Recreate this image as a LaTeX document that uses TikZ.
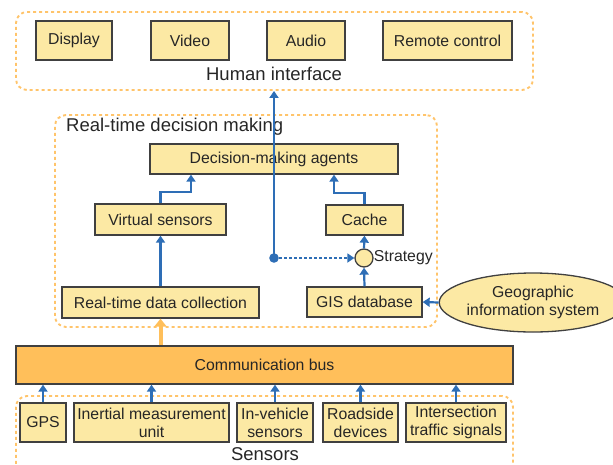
\documentclass[tikz,border=0pt]{standalone}
\usepackage{fontspec}
\setmainfont{Liberation Sans}
\usetikzlibrary{arrows.meta,shapes.geometric}
\definecolor{boxfill}{RGB}{252,233,164}
\definecolor{boxline}{RGB}{64,64,64}
\definecolor{flowblue}{RGB}{46,110,182}
\definecolor{frameorange}{RGB}{255,196,107}
\definecolor{busorange}{RGB}{255,191,90}
\newcommand{\boxfont}{\fontsize{15.8}{18}\selectfont}
\newcommand{\titlefont}{\fontsize{18.5}{21}\selectfont}
\tikzset{
  unit/.style={draw=boxline, fill=boxfill, line width=1.3pt, inner sep=0pt, align=center,
    font=\boxfont, text=black!85, minimum width=#1},
  frame/.style={draw=frameorange, line width=1.9pt, dash pattern=on 3pt off 3pt,
    rounded corners=11pt, inner sep=0pt},
  flow/.style={draw=flowblue, line width=2.2pt, -{Triangle[width=9pt,length=7pt]}},
  label/.style={font=\titlefont, text=black!85, inner sep=0pt}
}
\begin{document}
\begin{tikzpicture}[x=1pt, y=-1pt]
  \useasboundingbox (0,0) rectangle (613,464);
  \node[frame, minimum width=517pt, minimum height=78pt] (hiframe) at (274.5,51) {};
  \node[frame, minimum width=382pt, minimum height=212pt] (rtframe) at (246,221) {};
  \node[frame, minimum width=497pt, minimum height=80pt] (seframe) at (264.5,436) {};
  \node[label] at (274,74) {Human interface};
  \node[label, anchor=west] at (66,127) {Real-time decision making};
  \node[label] at (265,454) {Sensors};

  \node[unit=76pt, minimum height=39pt] (disp) at (74,40.5) {Display};
  \node[unit=78pt, minimum height=39pt] (video) at (190,40.5) {Video};
  \node[unit=78pt, minimum height=39pt] (audio) at (306,40.5) {Audio};
  \node[unit=129pt, minimum height=39pt] (remote) at (447.5,40.5) {Remote control};

  \node[unit=248pt, minimum height=30pt] (agents) at (274,159) {Decision-making agents};
  \node[unit=131pt, minimum height=31pt] (virt) at (160.5,219.5) {Virtual sensors};
  \node[unit=77pt, minimum height=30pt] (cache) at (364.5,220) {Cache};
  \node[unit=197pt, minimum height=31pt] (collect) at (160.5,302.5) {Real-time data collection};
  \node[unit=115pt, minimum height=30pt] (gisdb) at (364.5,302) {GIS database};
  \node[circle, draw=boxline, fill=boxfill, line width=1.3pt, minimum size=18pt, inner sep=0pt] (strat) at (364,258) {};
  \node[font=\boxfont, text=black!85, anchor=west, inner sep=0pt] at (strat.east) {Strategy};
  \node[ellipse, draw=boxline, fill=boxfill, line width=1.3pt, inner sep=0pt, align=center,
    font=\boxfont, text=black!85, minimum width=159pt, minimum height=59pt] (geo) at (533,302.5)
    {Geographic\\information system};

  \node[draw=boxline, fill=busorange, line width=1.3pt, font=\boxfont, text=black!85,
    minimum width=497pt, minimum height=38pt] (bus) at (264.5,365) {Communication bus};

  \node[unit=46pt, minimum height=39pt] (gps) at (43,422.5) {GPS};
  \node[unit=155pt, minimum height=39pt] (imu) at (151.5,422.5) {Inertial measurement\\unit};
  \node[unit=76pt, minimum height=39pt] (invehicle) at (275,422.5) {In-vehicle\\sensors};
  \node[unit=75pt, minimum height=39pt] (roadside) at (360.5,422.5) {Roadside\\devices};
  \node[unit=100pt, minimum height=39pt] (signals) at (456,422.5) {Intersection\\traffic signals};

  \coordinate (junc) at (274,258);
  \draw[flow] (junc) -- (junc |- hiframe.south);
  \fill[flowblue] (junc) circle (4.8pt);
  \draw[flow, dash pattern=on 2.5pt off 2.5pt] (junc) -- (strat.west);
  \draw[flow] (strat.north) -- (cache.south);
  \draw[flow] (gisdb.north) -- (strat.south);
  \draw[flow] (geo.west) -- (gisdb.east);
  \draw[flow] (collect.north) -- (virt.south);
  \draw[flow] (virt.north) -- ++(0,-11) -| ([xshift=-83pt]agents.south);
  \draw[flow] (cache.north) -- ++(0,-11) -| ([xshift=60pt]agents.south);
  \draw[draw=busorange, line width=4pt, -{Triangle[width=12pt,length=8pt]}] (collect.south |- bus.north) -- (collect.south);
  \foreach \s in {gps,imu,invehicle,roadside,signals}
    \draw[flow] (\s.north) -- (\s.north |- bus.south);
\end{tikzpicture}
\end{document}
